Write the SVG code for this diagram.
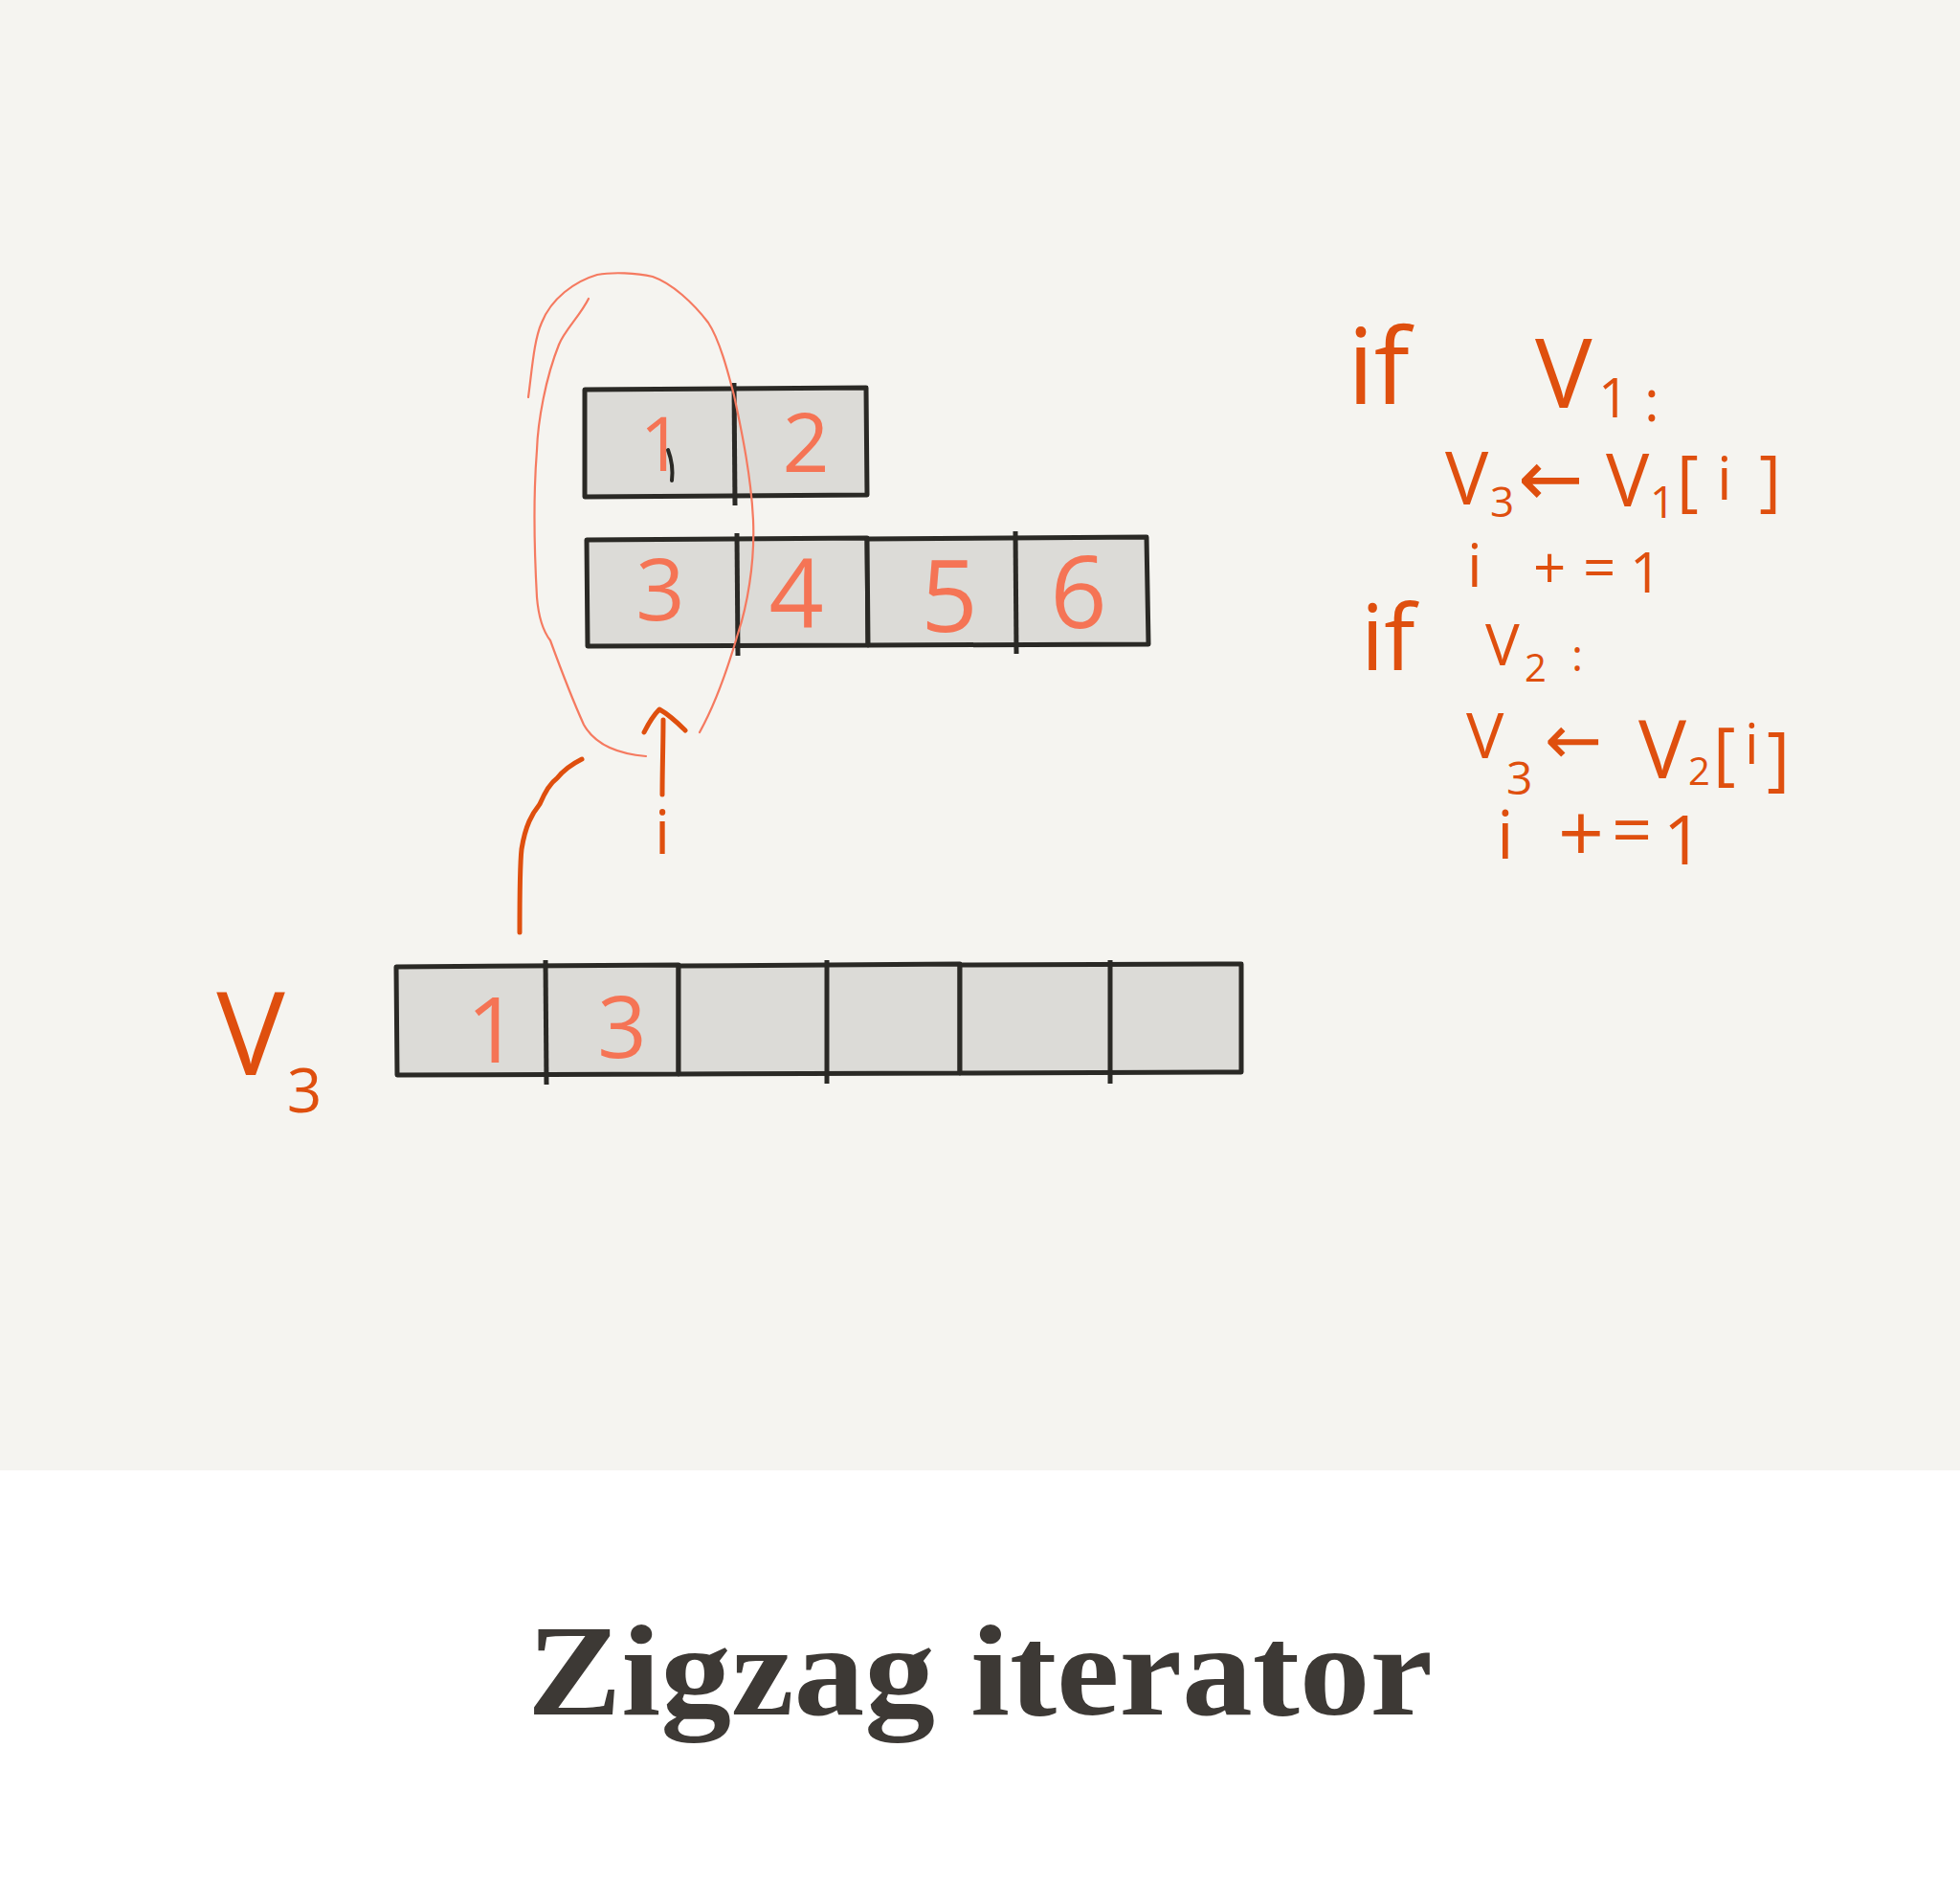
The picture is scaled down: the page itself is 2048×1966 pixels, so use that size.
<svg xmlns="http://www.w3.org/2000/svg" width="2048" height="1966" viewBox="0 0 2048 1966">
<style>
.box{fill:#dcdbd7;stroke:#2a2925;stroke-width:5;stroke-linejoin:round}
.div{fill:none;stroke:#2a2925;stroke-width:5;stroke-linecap:butt}
.dig{font-family:"Open Sans","DejaVu Sans",sans-serif;fill:#f57455;text-anchor:middle}
.hw{font-family:"Open Sans","DejaVu Sans",sans-serif;fill:#df4f0e}
.las{fill:none;stroke:#f57a60;stroke-width:2.2;stroke-linecap:round}
.ink{fill:none;stroke:#df4f0e;stroke-width:5;stroke-linecap:round;stroke-linejoin:round}
.title{font-family:"Liberation Serif","Times New Roman",serif;font-weight:bold;fill:#3d3935;text-anchor:middle}
</style>
<rect x="0" y="0" width="2048" height="1536" fill="#f5f4f0"/>
<rect x="0" y="1536" width="2048" height="430" fill="#ffffff"/>

<g id="v1-array">
<path class="box" d="M611,407 L905,405 L906,517 L611,519 Z"/>
<path class="div" d="M767,400 L768,528"/>
<text class="dig" x="691" y="492" font-size="78">1</text>
<path d="M698,470 Q704,486 702,502" fill="none" stroke="#2a2925" stroke-width="4" stroke-linecap="round"/>
<text class="dig" x="842" y="493" font-size="86">2</text>
</g>

<g id="v2-array">
<path class="box" d="M613,564 L906,562 L907,674 L614,675 Z"/>
<path class="box" d="M906,563 L1198,561 L1200,673 L907,674 Z"/>
<path class="div" d="M770,557 L771,685"/>
<path class="div" d="M1061,555 L1062,683"/>
<text class="dig" x="690" y="648" font-size="90">3</text>
<text class="dig" x="832" y="656" font-size="100">4</text>
<text class="dig" x="992" y="660" font-size="104">5</text>
<text class="dig" x="1127" y="656" font-size="104">6</text>
</g>

<g id="v3-array">
<path class="box" d="M414,1010 L709,1008 L709,1122 L415,1123 Z"/>
<path class="box" d="M709,1009 L1003,1007 L1003,1121 L709,1122 Z"/>
<path class="box" d="M1003,1008 L1297,1007 L1297,1120 L1003,1121 Z"/>
<path class="div" d="M570,1003 L571,1133"/>
<path class="div" d="M864,1003 L864,1132"/>
<path class="div" d="M1160,1003 L1160,1132"/>
<text class="dig" x="515" y="1110" font-size="96">1</text>
<text class="dig" x="650" y="1105" font-size="90">3</text>
</g>

<g id="v3-label">
<text class="hw" x="262" y="1123" font-size="120" text-anchor="middle">V<tspan x="318" y="1162" font-size="64">3</tspan></text>
</g>

<g id="i-label">
<text class="hw" x="692" y="892" font-size="64" text-anchor="middle">i</text>
</g>

<g id="code">
<text class="hw" font-size="110"><tspan x="1408" y="422">if</tspan><tspan x="1604" y="426" font-size="100">V</tspan><tspan x="1670" y="436" font-size="56">1</tspan><tspan x="1718" y="440" font-size="60">:</tspan></text>
<text class="hw" font-size="76"><tspan x="1510" y="527">V</tspan><tspan x="1557" y="540" font-size="44">3</tspan><tspan x="1586" y="528" font-size="82">←</tspan><tspan x="1678" y="529" font-size="76">V</tspan><tspan x="1724" y="541" font-size="46">1</tspan><tspan x="1752" y="526" font-size="70">[</tspan><tspan x="1794" y="522" font-size="62">i</tspan><tspan x="1838" y="526" font-size="70">]</tspan></text>
<text class="hw" font-size="62"><tspan x="1533" y="613">i</tspan><tspan x="1602" y="615" font-size="60">+</tspan><tspan x="1654" y="614" font-size="60">=</tspan><tspan x="1703" y="619" font-size="58">1</tspan></text>
<text class="hw" font-size="96"><tspan x="1422" y="700">if</tspan><tspan x="1552" y="695" font-size="60">V</tspan><tspan x="1593" y="712" font-size="40">2</tspan><tspan x="1642" y="701" font-size="46">:</tspan></text>
<text class="hw" font-size="66"><tspan x="1532" y="792">V</tspan><tspan x="1574" y="830" font-size="48">3</tspan><tspan x="1614" y="798" font-size="72">←</tspan><tspan x="1712" y="813" font-size="84">V</tspan><tspan x="1764" y="820" font-size="40">2</tspan><tspan x="1790" y="812" font-size="72">[</tspan><tspan x="1823" y="798" font-size="58">i</tspan><tspan x="1846" y="817" font-size="74">]</tspan></text>
<text class="hw" font-size="70"><tspan x="1564" y="897">i</tspan><tspan x="1628" y="900" font-size="84">+</tspan><tspan x="1684" y="893" font-size="74">=</tspan><tspan x="1738" y="903" font-size="72">1</tspan></text>
</g>

<g id="connectors">
<path class="las" d="M552,415 C556,385 558,355 566,337 C576,312 600,294 624,287 C640,284 665,285 682,289 C702,296 724,316 740,337 C752,355 761,390 767,413 C776,455 785,500 787,543 C789,590 780,635 771,662 C760,700 745,740 731,765"/>
<path class="las" d="M615,312 C606,330 590,345 584,360 C570,395 562,440 561,470 C557,520 558,570 561,624 C563,648 568,660 575,669 C590,710 600,735 610,757 C620,775 640,787 675,790"/>
<path class="ink" d="M543,974 C543,935 543,905 545,887 C549,862 556,850 564,840 C570,826 575,818 582,813 C590,803 598,798 608,793"/>
<path class="ink" d="M692,830 C692,805 693,775 693,752"/>
<path class="ink" d="M673,765 C678,755 684,746 689,741 C698,746 708,755 716,763"/>
</g>

<g id="title">
<text class="title" x="1024" y="1791" font-size="136" textLength="946" lengthAdjust="spacingAndGlyphs">Zigzag iterator</text>
</g>
</svg>
